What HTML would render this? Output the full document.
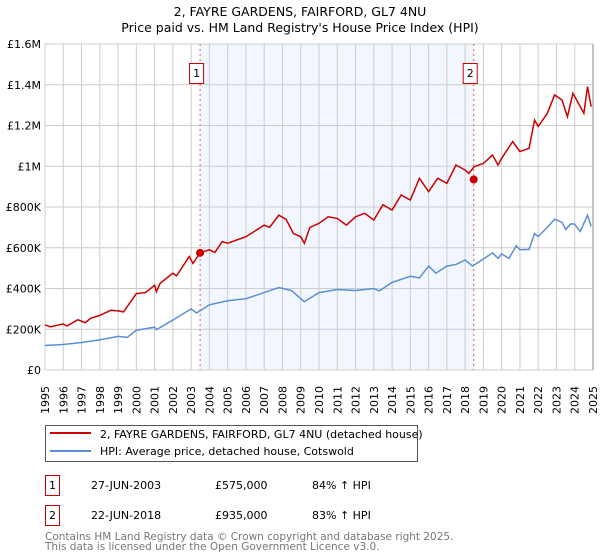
<!DOCTYPE html>
<html><head><meta charset="utf-8"><style>
body{margin:0;background:#fff;font-family:"DejaVu Sans","Liberation Sans",sans-serif;}
svg{display:block}
</style></head><body>
<svg id="chart" width="600" height="560" font-family="DejaVu Sans, Liberation Sans, sans-serif">
<g id="title" text-anchor="middle" font-size="12.5" fill="#000">
<text x="300" y="16">2, FAYRE GARDENS, FAIRFORD, GL7 4NU</text>
<text x="300" y="32">Price paid vs. HM Land Registry's House Price Index (HPI)</text>
</g>
<g id="plot"></g>
<g>
<rect x="45.5" y="425.5" width="372" height="36" fill="#fff" stroke="#555"/>
<line x1="50" y1="433" x2="91" y2="433" stroke="#cc0000" stroke-width="2"/>
<text x="100" y="438" font-size="11">2, FAYRE GARDENS, FAIRFORD, GL7 4NU (detached house)</text>
<line x1="50" y1="451" x2="91" y2="451" stroke="#5b8fd4" stroke-width="2"/>
<text x="100" y="455" font-size="11">HPI: Average price, detached house, Cotswold</text>
</g>
<g font-size="11">
<rect x="45.5" y="475.5" width="14" height="20" fill="#fff" stroke="#cc0000"/>
<text x="52.5" y="489" text-anchor="middle">1</text>
<text x="91" y="489">27-JUN-2003</text>
<text x="215" y="489">£575,000</text>
<text x="312" y="489">84% ↑ HPI</text>
<rect x="45.5" y="505.5" width="14" height="20" fill="#fff" stroke="#cc0000"/>
<text x="52.5" y="519" text-anchor="middle">2</text>
<text x="91" y="519">22-JUN-2018</text>
<text x="215" y="519">£935,000</text>
<text x="312" y="519">83% ↑ HPI</text>
</g>
<g font-size="10.5" fill="#777">
<text x="45" y="540">Contains HM Land Registry data © Crown copyright and database right 2025.</text>
<text x="45" y="550">This data is licensed under the Open Government Licence v3.0.</text>
</g>
</svg>
<script>
const hpiYears=[1995,1996,1997,1998,1999,1999.5,2000,2001,2001.1,2002,2003,2003.3,2004,2005,2006,2007,2007.8,2008.5,2009,2009.2,2010,2011,2012,2013,2013.3,2014,2015,2015.5,2016,2016.4,2017,2017.5,2018,2018.4,2019,2019.5,2019.8,2020,2020.4,2020.8,2021,2021.5,2021.8,2022,2022.5,2022.9,2023.3,2023.5,2023.8,2024,2024.3,2024.7,2024.9];
const hpiValues=[120,125,135,148,165,160,195,210,198,245,300,280,320,340,350,380,405,390,350,335,380,395,390,400,388,430,460,452,510,475,510,518,540,510,545,575,548,570,548,610,590,592,670,655,700,740,725,690,718,715,680,760,705];
const priceYears=[1995,1995.3,1996,1996.2,1996.8,1997.2,1997.5,1998,1998.6,1999,1999.3,2000,2000.5,2001,2001.1,2001.3,2002,2002.2,2002.9,2003.1,2003.49,2004,2004.3,2004.7,2005,2006,2007,2007.3,2007.8,2008.2,2008.6,2009,2009.2,2009.5,2010,2010.5,2011,2011.5,2012,2012.5,2013,2013.5,2014,2014.5,2015,2015.5,2016,2016.5,2017,2017.5,2018,2018.2,2018.5,2019,2019.5,2019.8,2020,2020.6,2021,2021.5,2021.8,2022,2022.5,2022.9,2023.3,2023.6,2023.9,2024.2,2024.5,2024.7,2024.9];
const priceValues=[221,212,226,216,247,232,254,268,293,290,285,375,380,416,384,425,475,462,557,523,575,590,577,630,622,654,711,700,760,739,670,654,622,700,720,752,744,711,752,769,736,811,785,859,834,941,875,941,916,1006,981,965,998,1014,1055,1006,1039,1121,1072,1088,1227,1195,1260,1350,1325,1243,1358,1309,1260,1391,1292];
const saleYears=[2003.49,2018.47];
const saleValues=[575,935];
const yTicks=[0,200,400,600,800,1000,1200,1400,1600];
const yTickLabels=["£0","£200K","£400K","£600K","£800K","£1M","£1.2M","£1.4M","£1.6M"];
const xTicks=[1995,1996,1997,1998,1999,2000,2001,2002,2003,2004,2005,2006,2007,2008,2009,2010,2011,2012,2013,2014,2015,2016,2017,2018,2019,2020,2021,2022,2023,2024,2025];
const L=45,R=593,T=44,B=370;
const x=v=>L+(v-1995)/30*(R-L);
const y=v=>B-v/1600*(B-T);
const NS="http://www.w3.org/2000/svg";
const g=document.getElementById('plot');
function mk(t,a){const e=document.createElementNS(NS,t);for(const k in a)e.setAttribute(k,a[k]);g.appendChild(e);return e;}
let e=mk('rect',{x:x(saleYears[0]),y:T,width:x(saleYears[1])-x(saleYears[0]),height:B-T,fill:'#eef3fd',opacity:0.75});


xTicks.forEach((t,i)=>{
 const l=mk('line',{x1:x(t),x2:x(t),y1:T,y2:B,stroke:'#ccc','stroke-width':1});
 
 
 const tx=mk('text',{transform:`translate(${x(t)+4},${B+44}) rotate(-90)`,'font-size':11});
 tx.textContent=t;
 
 
});
yTicks.forEach((t,i)=>{
 const l=mk('line',{x1:L,x2:R,y1:y(t),y2:y(t),stroke:'#ccc','stroke-width':1});
 
 
 const tx=mk('text',{x:L-4,y:y(t)+4,'font-size':11,'text-anchor':'end'});
 tx.textContent=yTickLabels[i];
 
 
});
saleYears.forEach((s,i)=>{
 const l=mk('line',{x1:x(s),x2:x(s),y1:T,y2:B,stroke:'#e06060','stroke-dasharray':'2,3','stroke-width':1});
 
 
 const off=i===0?10:10;
 const r=mk('rect',{x:x(s)-off-0.5,y:63.5,width:14,height:20,fill:'#fff',stroke:'#cc0000'});
 
 
 const t=mk('text',{x:x(s)-off+6.5,y:77,'font-size':11,'text-anchor':'middle'});
 t.textContent=String(i+1);
 
 
});
const ax=mk('line',{x1:R,x2:R,y1:T,y2:B,stroke:'#888'});


const p1=mk('polyline',{points:hpiYears.map((v,i)=>x(v)+','+y(hpiValues[i])).join(' '),fill:'none',stroke:'#5b8fd4','stroke-width':1.5});


const p2=mk('polyline',{points:priceYears.map((v,i)=>x(v)+','+y(priceValues[i])).join(' '),fill:'none',stroke:'#cc0000','stroke-width':1.5});


saleYears.forEach((s,i)=>{
 const c=mk('circle',{cx:x(s),cy:y(saleValues[i]),r:4,fill:'#cc0000'});
 
 
});
</script>
</body></html>
